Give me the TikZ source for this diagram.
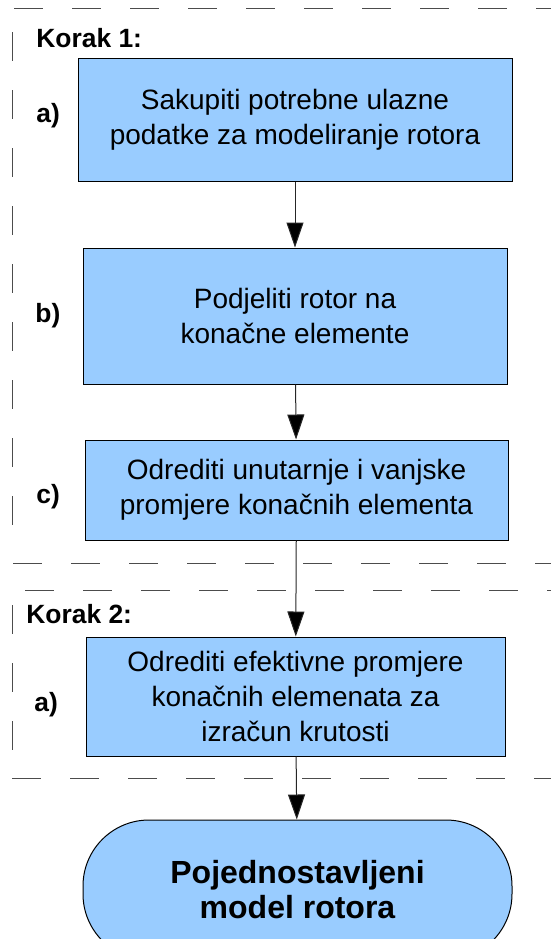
\documentclass[tikz,border=0pt]{standalone}
\usepackage{fontspec}
\setmainfont{Liberation Sans}
\usetikzlibrary{arrows.meta,positioning}
\definecolor{boxblue}{HTML}{99CCFF}
\tikzset{
  korak/.style={rectangle, draw=black, line width=0.5pt, fill=boxblue, inner sep=0pt,
    align=center, font=\fontsize{14}{17.5}\selectfont},
  kraj/.style={rectangle, rounded corners=33pt, draw=black, line width=0.5pt, fill=boxblue,
    inner sep=0pt, align=center, font=\bfseries\fontsize{16}{17.5}\selectfont},
  oznaka/.style={anchor=west, inner sep=0pt, font=\bfseries\fontsize{13.2}{15}\selectfont},
  okvir/.style={draw=black!70, line width=0.5pt, dash pattern=on 14.5pt off 14.5pt},
  strelica/.style={draw=black!85, line width=0.5pt, -{Triangle[width=8.5pt,length=12.5pt]}}
}
\begin{document}
\begin{tikzpicture}[x=0.5pt,y=-0.5pt]
            \useasboundingbox (0,0) rectangle (551,939);
            % koraci
            \node[korak, minimum width=217pt, minimum height=61.5pt] (a1) at (295,119.5)
                {Sakupiti potrebne ulazne\\podatke za modeliranje rotora};
            \node[korak, minimum width=212pt, minimum height=68pt] (b1) at (295,316)
                {Podjeliti rotor na\\ konačne elemente};
            \node[korak, minimum width=211.5pt, minimum height=50pt] (c1) at (296.5,490)
                {Odrediti unutarnje i vanjske\\promjere konačnih elementa};
            \node[korak, minimum width=209.5pt, minimum height=59.5pt] (a2) at (295.5,696.5)
                {Odrediti efektivne promjere\\konačnih elemenata za\\izračun krutosti};
            \node[kraj, minimum width=214.5pt, minimum height=70pt] (model) at (297.5,890)
                {Pojednostavljeni\\model rotora};
            
            % oznake
            \node[oznaka] (k1)  at (36,38)  {Korak 1:};
            \node[oznaka] (la1) at (36,116) {a)};
            \node[oznaka] (lb1) at (35,316) {b)};
            \node[oznaka] (lc1) at (36,497) {c)};
            \node[oznaka] (k2)  at (26,614) {Korak 2:};
            \node[oznaka] (la2) at (34,705) {a)};
            
            % okviri
            \draw[okvir] (14,8) -- (551,8);
            \draw[okvir] (12,32) -- (12,548);
            \draw[okvir] (13,563) -- (551,563);
            \draw[okvir] (25,590) -- (551,590);
            \draw[okvir] (12,605) -- (12,752);
            \draw[okvir] (12,778) -- (551,778);
            
            \path[strelica]
            (a1) edge (b1)
            (b1) edge (c1)
            (c1) edge (a2)
            (a2) edge (model);
    \end{tikzpicture}
\end{document}
